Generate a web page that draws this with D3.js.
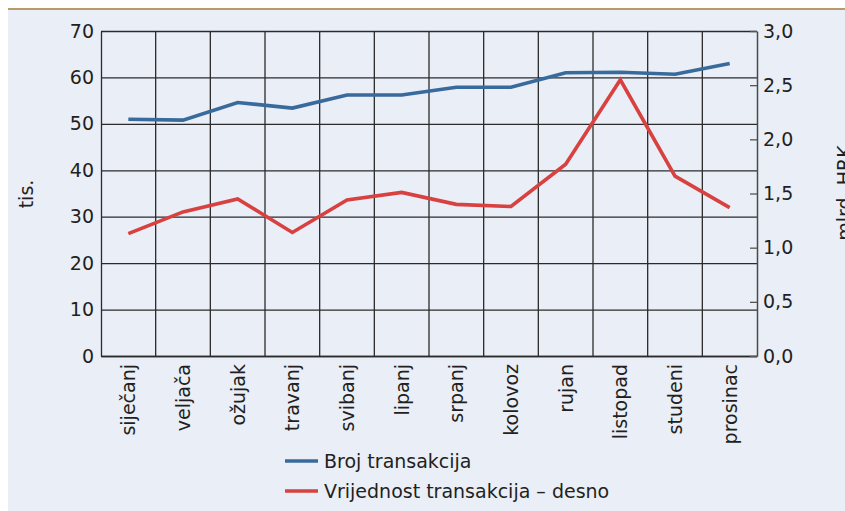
<!DOCTYPE html>
<html>
<head>
<meta charset="utf-8">
<script src="https://cdn.jsdelivr.net/npm/d3@7"></script>
<style>
  html, body { margin: 0; padding: 0; background: #ffffff; }
  svg { display: block; }
  text { font-family: "DejaVu Sans", sans-serif; fill: #231f20; }
</style>
</head>
<body>
<svg id="chart" width="845" height="511"></svg>
<script>
const months = ["siječanj","veljača","ožujak","travanj","svibanj","lipanj","srpanj","kolovoz","rujan","listopad","studeni","prosinac"];
const brojTransakcija = [51.0, 50.8, 54.6, 53.4, 56.2, 56.2, 57.9, 57.9, 61.0, 61.1, 60.7, 63.0];
const vrijednostTransakcija = [1.13, 1.33, 1.45, 1.14, 1.44, 1.51, 1.40, 1.38, 1.77, 2.55, 1.66, 1.37];
const leftTicks = [0, 10, 20, 30, 40, 50, 60, 70];
const rightTicks = [0, 0.5, 1.0, 1.5, 2.0, 2.5, 3.0];
const seriesNames = ["Broj transakcija", "Vrijednost transakcija – desno"];
const leftTitle = "tis.";
const rightTitle = "mlrd. HRK";

const colors = { blue: "#386a9c", red: "#d8413f", grid: "#2b2b2b", bg: "#e9eef7", border: "#b8996a" };

const svg = d3.select("#chart");
const W = 845, H = 511;
const m = { left: 101, right: 757, top: 31, bottom: 356 };

// background panel
svg.append("rect").attr("x", 8).attr("y", 9).attr("width", W - 8).attr("height", H - 9).attr("fill", colors.bg);
svg.append("line").attr("x1", 8).attr("x2", W).attr("y1", 9).attr("y2", 9)
  .attr("stroke", colors.border).attr("stroke-width", 2);

const x = d3.scaleBand().domain(months).range([m.left, m.right]).padding(0);
const yL = d3.scaleLinear().domain([0, 70]).range([m.bottom, m.top]);
const yR = d3.scaleLinear().domain([0, 3]).range([m.bottom, m.top]);

// horizontal grid + left labels
const gL = svg.append("g").attr("transform", `translate(${m.left},0)`)
  .call(d3.axisLeft(yL).tickValues(leftTicks).tickSizeInner(-(m.right - m.left)).tickSizeOuter(0).tickPadding(7));
gL.select(".domain").attr("stroke", colors.grid).attr("stroke-width", 1.3);
gL.selectAll(".tick line").attr("stroke", colors.grid).attr("stroke-width", 1.3);
gL.selectAll(".tick text").style("font-size", "19px").attr("fill", "#231f20").style("font-family", "DejaVu Sans, sans-serif");

// vertical grid lines at category boundaries
svg.append("g").selectAll("line").data(months.slice(1)).join("line")
  .attr("x1", d => x(d)).attr("x2", d => x(d))
  .attr("y1", m.top).attr("y2", m.bottom)
  .attr("stroke", colors.grid).attr("stroke-width", 1.3);

// x labels
const gX = svg.append("g").attr("transform", `translate(0,${m.bottom})`)
  .call(d3.axisBottom(x).tickSize(0).tickPadding(0));
gX.select(".domain").attr("stroke", colors.grid).attr("stroke-width", 1.3);
gX.selectAll(".tick text")
  .attr("transform", "rotate(-90)")
  .attr("x", -8).attr("y", 0).attr("dy", "0.36em")
  .attr("text-anchor", "end")
  .style("font-size", "19px").attr("fill", "#231f20").style("font-family", "DejaVu Sans, sans-serif");

// right axis
const fmt = v => d3.format(".1f")(v).replace(".", ",");
const gR = svg.append("g").attr("transform", `translate(${m.right},0)`)
  .call(d3.axisRight(yR).tickValues(rightTicks).tickFormat(fmt).tickSizeInner(-7).tickSizeOuter(0).tickPadding(6));
gR.select(".domain").attr("stroke", "#4a4a4a").attr("stroke-width", 1.5);
gR.selectAll(".tick line").attr("stroke", "#555").attr("stroke-width", 1.3);
gR.selectAll(".tick text").style("font-size", "19px").attr("fill", "#231f20").style("font-family", "DejaVu Sans, sans-serif");

// lines
const cx = d => x(d) + x.bandwidth() / 2;
const lineL = d3.line().x((d, i) => cx(months[i])).y(d => yL(d));
const lineR = d3.line().x((d, i) => cx(months[i])).y(d => yR(d));
svg.append("path").datum(brojTransakcija).attr("d", lineL)
  .attr("fill", "none").attr("stroke", colors.blue).attr("stroke-width", 3.6).attr("stroke-linejoin", "miter");
svg.append("path").datum(vrijednostTransakcija).attr("d", lineR)
  .attr("fill", "none").attr("stroke", colors.red).attr("stroke-width", 3.6).attr("stroke-linejoin", "miter");

// axis titles
svg.append("text").attr("transform", "translate(33,194) rotate(-90)")
  .attr("text-anchor", "middle").style("font-size", "19px").text(leftTitle);
svg.append("text").attr("transform", "translate(851,193) rotate(-90)")
  .attr("text-anchor", "middle").style("font-size", "19px").text(rightTitle);

// legend
const legend = svg.append("g");
const legY = [461, 491];
const legColors = [colors.blue, colors.red];
seriesNames.forEach((name, i) => {
  legend.append("line").attr("x1", 285).attr("x2", 318).attr("y1", legY[i]).attr("y2", legY[i])
    .attr("stroke", legColors[i]).attr("stroke-width", 3.6);
  legend.append("text").attr("x", 324).attr("y", legY[i]).attr("dy", "0.36em")
    .style("font-size", "19px").text(name);
});
</script>
</body>
</html>
